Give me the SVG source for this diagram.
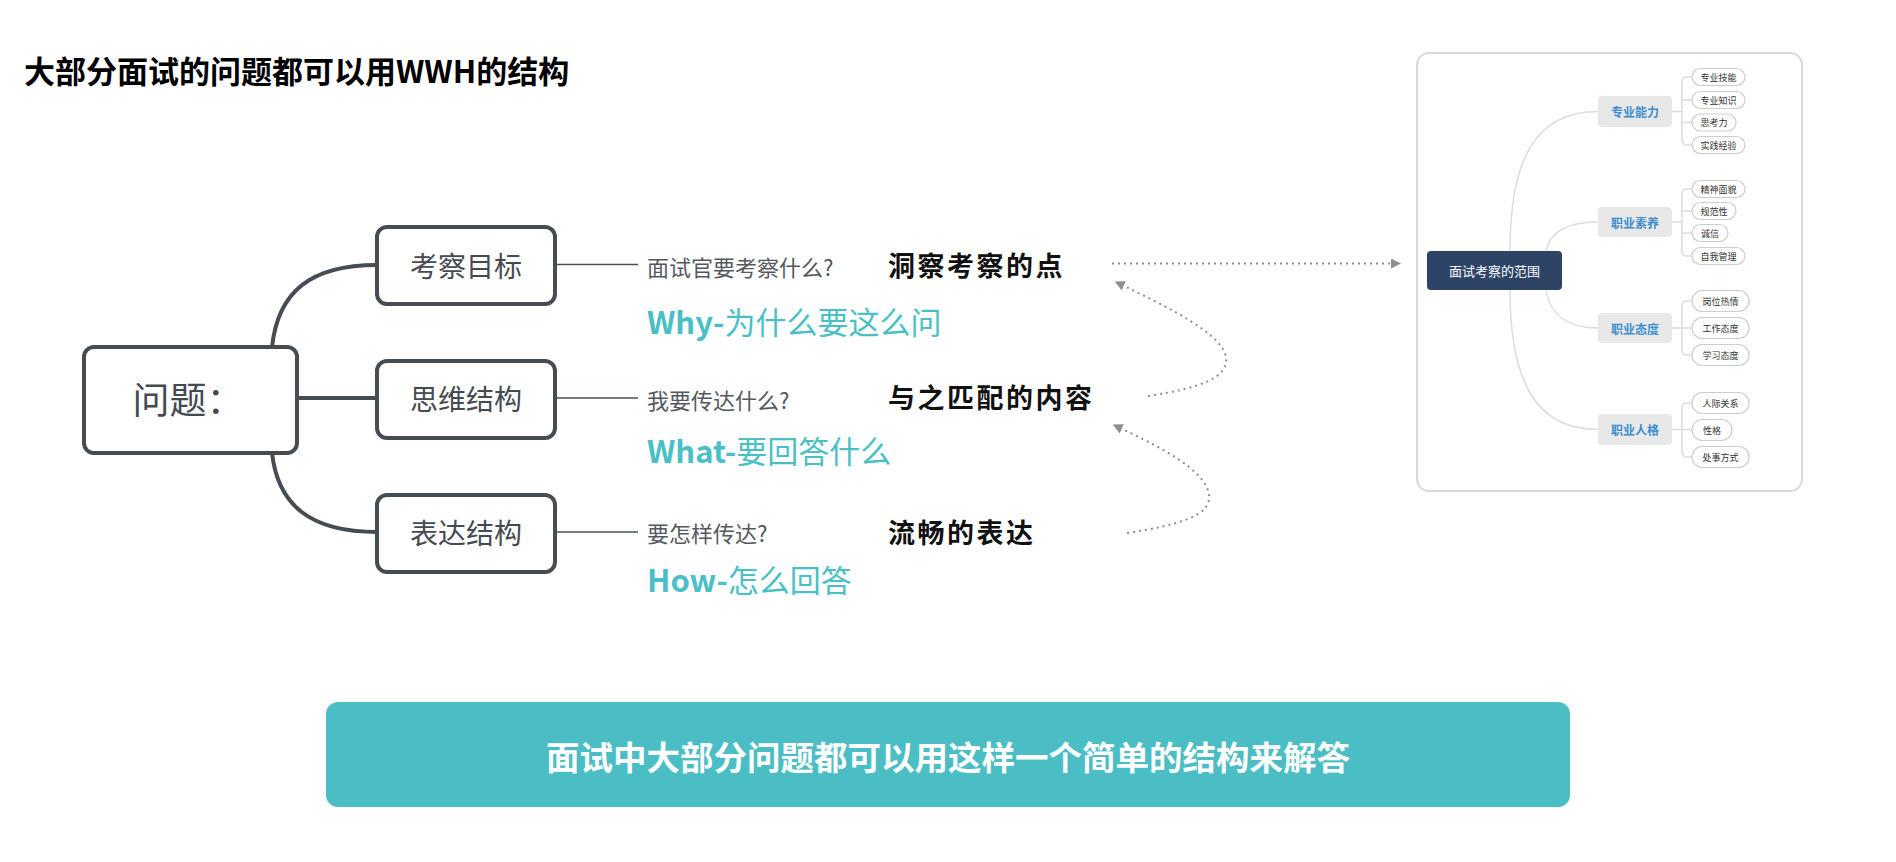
<svg xmlns="http://www.w3.org/2000/svg" width="1896" height="862" viewBox="0 0 1896 862">
<defs>
<style>
text{font-family:"Noto Sans CJK SC","Noto Sans",sans-serif;dominant-baseline:central}
.n1{fill:#fff;stroke:#454c54;stroke-width:4}
.n1t{font-size:28px;fill:#444a51;text-anchor:middle}
.edge{fill:none;stroke:#454c54;stroke-width:4}
.thin{fill:none;stroke:#4a5058;stroke-width:1.5}
.q{font-size:22px;fill:#55595e}
.b{font-size:27px;font-weight:700;fill:#111;letter-spacing:2.5px}
.w{font-size:31px;fill:#4bbfc6}
.w tspan.k{font-weight:700}
.dot{fill:none;stroke:#8e8e8e;stroke-width:2;stroke-dasharray:2 4}
.mml{fill:none;stroke:#dcdcdc;stroke-width:1.5}
.br{fill:#e8e8e8}
.brt{font-size:12px;font-weight:700;fill:#3b8ed0;text-anchor:middle}
.leaf{fill:#fff;stroke:#cdcdcd;stroke-width:1.2}
.lt{font-size:9px;fill:#333;text-anchor:middle}
</style>
<marker id="ah" markerUnits="userSpaceOnUse" markerWidth="12" markerHeight="12" refX="2" refY="5" orient="auto"><path d="M0,0 L10,5 L0,10 z" fill="#8e8e8e"/></marker>
</defs>
<rect width="1896" height="862" fill="#fff"/>

<g id="title"><text x="24" y="69" font-size="31" font-weight="700" fill="#000">大部分面试的问题都可以用WWH的结构</text></g>

<g id="connectors">
<path class="edge" d="M272,347 C278,292 310,265 377,265"/>
<path class="edge" d="M297,398 H377"/>
<path class="edge" d="M272,453 C278,505 310,532 377,532"/>
<path class="thin" d="M556,264.5 H638"/>
<path class="thin" d="M556,398 H638"/>
<path class="thin" d="M556,532 H638"/>
<path class="dot" d="M1112,263.5 H1393" marker-end="url(#ah)"/>
<path class="dot" d="M1148,396 C1200,388 1228,378 1226,358 C1224,335 1170,308 1122,285" marker-end="url(#ah)"/>
<path class="dot" d="M1127,533 C1180,525 1212,515 1209,495 C1206,470 1160,447 1120,428" marker-end="url(#ah)"/>
</g>

<g id="node-wenti"><rect class="n1" x="84" y="347" width="213" height="106" rx="10"/><text x="188" y="398" font-size="37" fill="#444a51" text-anchor="middle">问题：</text></g>
<g id="node-kaocha"><rect class="n1" x="377" y="227" width="178" height="77" rx="10"/><text class="n1t" x="466" y="265">考察目标</text></g>
<g id="node-siwei"><rect class="n1" x="377" y="361" width="178" height="77" rx="10"/><text class="n1t" x="466" y="398">思维结构</text></g>
<g id="node-biaoda"><rect class="n1" x="377" y="495" width="178" height="77" rx="10"/><text class="n1t" x="466" y="532">表达结构</text></g>

<g id="row-why">
<text class="q" x="647" y="265.5">面试官要考察什么?</text>
<text class="b" x="888" y="264">洞察考察的点</text>
<text class="w" x="647" y="320"><tspan class="k">Why-</tspan>为什么要这么问</text>
</g>
<g id="row-what">
<text class="q" x="647" y="398.5">我要传达什么?</text>
<text class="b" x="888" y="396.5">与之匹配的内容</text>
<text class="w" x="647" y="449"><tspan class="k">What-</tspan>要回答什么</text>
</g>
<g id="row-how">
<text class="q" x="647" y="532">要怎样传达?</text>
<text class="b" x="888" y="531">流畅的表达</text>
<text class="w" x="647" y="578"><tspan class="k">How-</tspan>怎么回答</text>
</g>

<g id="mindmap-panel">
<rect x="1417" y="53" width="385" height="438" rx="12" fill="#fff" stroke="#d9d9d9" stroke-width="2"/>
<g id="mm-links">
<path class="mml" d="M1510,251 C1510,160 1535,111.5 1598,111.5"/>
<path class="mml" d="M1546,251 C1550,232 1568,222 1598,222"/>
<path class="mml" d="M1546,290 C1550,315 1568,328 1598,328"/>
<path class="mml" d="M1510,290 C1510,380 1535,429.5 1598,429.5"/>
<path class="mml" d="M1672,111.5 H1682 M1692,77 H1687 Q1682,77 1682,82 V140 Q1682,145 1687,145 H1692 M1682,100 H1692 M1682,122.5 H1692"/>
<path class="mml" d="M1672,222 H1682 M1692,189 H1687 Q1682,189 1682,194 V251 Q1682,256 1687,256 H1692 M1682,211 H1692 M1682,233 H1692"/>
<path class="mml" d="M1672,328 H1692 M1692,301 H1687 Q1682,301 1682,306 V350 Q1682,355 1687,355 H1692"/>
<path class="mml" d="M1672,429.5 H1692 M1692,403 H1687 Q1682,403 1682,408 V452 Q1682,457 1687,457 H1692"/>
</g>
<g id="mm-root"><rect x="1427" y="251" width="135" height="39" rx="4" fill="#2e4467"/><text x="1494.5" y="270.5" font-size="13" fill="#fff" text-anchor="middle">面试考察的范围</text></g>
<g id="mm-zhuanye"><rect class="br" x="1598" y="96" width="74" height="31" rx="4"/><text class="brt" x="1635" y="111.5">专业能力</text></g>
<g id="mm-suyang"><rect class="br" x="1598" y="207" width="74" height="30" rx="4"/><text class="brt" x="1635" y="222">职业素养</text></g>
<g id="mm-taidu"><rect class="br" x="1598" y="313" width="74" height="30" rx="4"/><text class="brt" x="1635" y="328">职业态度</text></g>
<g id="mm-renge"><rect class="br" x="1598" y="414" width="74" height="31" rx="4"/><text class="brt" x="1635" y="429.5">职业人格</text></g>

<g id="leaf-1"><rect class="leaf" x="1692" y="68.5" width="53" height="17" rx="8.5"/><text class="lt" x="1718.5" y="77">专业技能</text></g>
<g id="leaf-2"><rect class="leaf" x="1692" y="91.5" width="53" height="17" rx="8.5"/><text class="lt" x="1718.5" y="100">专业知识</text></g>
<g id="leaf-3"><rect class="leaf" x="1692" y="114" width="44" height="17" rx="8.5"/><text class="lt" x="1714" y="122.5">思考力</text></g>
<g id="leaf-4"><rect class="leaf" x="1692" y="136.5" width="53" height="17" rx="8.5"/><text class="lt" x="1718.5" y="145">实践经验</text></g>
<g id="leaf-5"><rect class="leaf" x="1692" y="180.5" width="53" height="17" rx="8.5"/><text class="lt" x="1718.5" y="189">精神面貌</text></g>
<g id="leaf-6"><rect class="leaf" x="1692" y="202.5" width="44" height="17" rx="8.5"/><text class="lt" x="1714" y="211">规范性</text></g>
<g id="leaf-7"><rect class="leaf" x="1692" y="224.5" width="36" height="17" rx="8.5"/><text class="lt" x="1710" y="233">诚信</text></g>
<g id="leaf-8"><rect class="leaf" x="1692" y="247.5" width="53" height="17" rx="8.5"/><text class="lt" x="1718.5" y="256">自我管理</text></g>
<g id="leaf-9"><rect class="leaf" x="1692" y="290.5" width="57" height="21" rx="10.5"/><text class="lt" x="1720.5" y="301">岗位热情</text></g>
<g id="leaf-10"><rect class="leaf" x="1692" y="317.5" width="57" height="21" rx="10.5"/><text class="lt" x="1720.5" y="328">工作态度</text></g>
<g id="leaf-11"><rect class="leaf" x="1692" y="344.5" width="57" height="21" rx="10.5"/><text class="lt" x="1720.5" y="355">学习态度</text></g>
<g id="leaf-12"><rect class="leaf" x="1692" y="392.5" width="57" height="21" rx="10.5"/><text class="lt" x="1720.5" y="403">人际关系</text></g>
<g id="leaf-13"><rect class="leaf" x="1692" y="419.5" width="40" height="21" rx="10.5"/><text class="lt" x="1712" y="430">性格</text></g>
<g id="leaf-14"><rect class="leaf" x="1692" y="446.5" width="57" height="21" rx="10.5"/><text class="lt" x="1720.5" y="457">处事方式</text></g>
</g>

<g id="summary-bar"><rect x="326" y="702" width="1244" height="105" rx="12" fill="#4abec4"/><text x="948" y="755" font-size="33.5" font-weight="700" fill="#fff" text-anchor="middle">面试中大部分问题都可以用这样一个简单的结构来解答</text></g>
</svg>
